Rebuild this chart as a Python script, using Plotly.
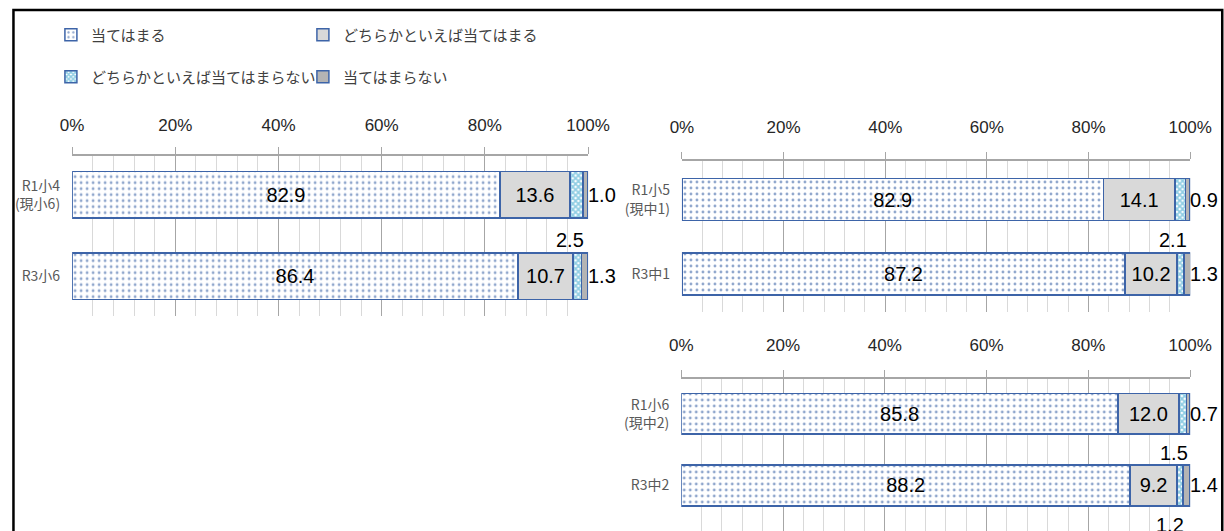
import plotly.graph_objects as go

W, H = 1250, 531
# the photographed page is slightly squeezed horizontally; place marks by reference pixels
SX, OX = 0.971, 12.0

# ---------------- data ----------------
series_names = ["当てはまる", "どちらかといえば当てはまる",
                "どちらかといえば当てはまらない", "当てはまらない"]
panel_labels = [["R1小4<br>(現小6)", "R3小6"],
                ["R1小5<br>(現中1)", "R3中1"],
                ["R1小6<br>(現中2)", "R3中2"]]
atehamaru = [[82.9, 86.4], [82.9, 87.2], [85.8, 88.2]]
dochira_ate = [[13.6, 10.7], [14.1, 10.2], [12.0, 9.2]]
dochira_not = [[2.5, 1.6], [2.1, 1.4], [1.5, 1.2]]
not_ate = [[1.0, 1.3], [0.9, 1.3], [0.7, 1.4]]
tick_vals = [0, 20, 40, 60, 80, 100]
tick_text = ["0%", "20%", "40%", "60%", "80%", "100%"]

# ---------------- style ----------------
JP = "Noto Sans CJK JP"
NUM = "Liberation Sans, Arial, sans-serif"
OUTLINE = "#3d64a8"
styles = [
    dict(color="white", line=dict(color=OUTLINE, width=1.5),
         pattern=dict(shape=".", fgcolor="#1f4e99", bgcolor="white", size=6, solidity=0.18)),
    dict(color="#d9d9d9", line=dict(color=OUTLINE, width=1.5)),
    dict(color="white", line=dict(color=OUTLINE, width=1.5),
         pattern=dict(shape="x", fgcolor="#1f9bc7", bgcolor="white", size=4, solidity=0.7)),
    dict(color="#b4b4b4", line=dict(color=OUTLINE, width=1.5)),
]
legend_of = ["legend", "legend", "legend2", "legend2"]


def px(R):
    return max(0.0, (R - OX) / SX) / W


def py(Y):
    return 1 - Y / H


# panel geometry in reference pixels: x0, x1, y_top(axis line), y_bottom, v_top, v_bottom, standoff
panels = [
    dict(x0=72, x1=587, yt=155.7, yb=315.7, vt=-0.48, vb=1.485, so=9),
    dict(x0=680.7, x1=1188, yt=161, yb=312, vt=-0.517, vb=1.51, so=12),
    dict(x0=680, x1=1188, yt=379, yb=531, vt=-0.486, vb=1.637, so=12),
]

fig = go.Figure()
annotations = []
series_data = [atehamaru, dochira_ate, dochira_not, not_ate]
VAL_FONT = dict(family=NUM, size=20, color="black")

for p, geo in enumerate(panels):
    xa = "x" if p == 0 else f"x{p+1}"
    ya = "y" if p == 0 else f"y{p+1}"
    cats = panel_labels[p]
    for s in range(4):
        vals = series_data[s][p]
        inside = s < 2
        fig.add_trace(go.Bar(
            x=vals, y=cats, orientation="h", name=series_names[s],
            marker=styles[s], xaxis=xa, yaxis=ya,
            legend=legend_of[s], showlegend=(p == 0),
            text=[f"{v:.1f}" for v in vals] if inside else None,
            textposition="inside" if inside else "none",
            insidetextanchor="middle",
            textfont=VAL_FONT, textangle=0, hoverinfo="x+y+name",
        ))
    # labels for the two small segments
    for i, cat in enumerate(cats):
        a, b, c, d = (atehamaru[p][i], dochira_ate[p][i],
                      dochira_not[p][i], not_ate[p][i])
        annotations.append(dict(
            x=a + b + c, y=i + 0.55, xref=xa, yref=ya, text=f"{c:.1f}",
            showarrow=False, xanchor="right", yanchor="middle", xshift=3,
            font=VAL_FONT))
        annotations.append(dict(
            x=100, y=i, xref=xa, yref=ya, text=f"{d:.1f}",
            showarrow=False, xanchor="left", yanchor="middle", xshift=-2,
            font=VAL_FONT))

layout_axes = {}
for p, geo in enumerate(panels):
    xk = "xaxis" if p == 0 else f"xaxis{p+1}"
    yk = "yaxis" if p == 0 else f"yaxis{p+1}"
    ya = "y" if p == 0 else f"y{p+1}"
    xa = "x" if p == 0 else f"x{p+1}"
    layout_axes[xk] = dict(
        domain=[px(geo["x0"]), px(geo["x1"])], anchor=ya, side="top",
        range=[0, 100], tickvals=tick_vals, ticktext=tick_text,
        showgrid=True, gridcolor="#a6a6a6", gridwidth=1,
        minor=dict(dtick=4, tick0=0, showgrid=True, gridcolor="#d9d9d9", gridwidth=1),
        showline=True, linecolor="#a6a6a6", linewidth=1.5,
        ticks="outside", ticklen=7, tickcolor="#a6a6a6",
        ticklabelstandoff=geo["so"],
        tickfont=dict(family=NUM, size=17, color="#262626"),
        zeroline=False, fixedrange=True,
    )
    layout_axes[yk] = dict(
        domain=[max(0, py(geo["yb"])), py(geo["yt"])], anchor=xa,
        type="category", categoryorder="array", categoryarray=panel_labels[p],
        range=[geo["vb"], geo["vt"]],
        showgrid=False, showline=False, zeroline=False, ticks="",
        ticklabelstandoff=11,
        tickfont=dict(family=JP, size=14, color="#595959"),
        fixedrange=True,
    )

# outer frame (left, top, right)
xl, xr, yt = 1.5 / W, px(1220), py(10)
frame = dict(type="path", xref="paper", yref="paper",
             path=f"M {xl} -0.02 L {xl} {yt} L {xr} {yt} L {xr} -0.02",
             line=dict(color="black", width=2.5))

LEG_FONT = dict(family=JP, size=15, color="#404040")
LEG_X = 40 / W
fig.update_layout(
    width=W, height=H, margin=dict(l=0, r=0, t=0, b=0),
    paper_bgcolor="white", plot_bgcolor="rgba(0,0,0,0)",
    barmode="stack", bargap=0.43,
    font=dict(family=JP, color="#404040"),
    legend=dict(orientation="h", x=LEG_X, xanchor="left", y=py(35), yanchor="middle",
                entrywidth=207, font=LEG_FONT,
                bgcolor="rgba(0,0,0,0)", traceorder="normal", itemclick=False),
    legend2=dict(orientation="h", x=LEG_X, xanchor="left", y=py(77), yanchor="middle",
                 entrywidth=207, font=LEG_FONT,
                 bgcolor="rgba(0,0,0,0)", traceorder="normal", itemclick=False),
    annotations=annotations, shapes=[frame],
    **layout_axes,
)

fig.write_html(
    "out.html",
    config={"displayModeBar": False},
    post_script="document.documentElement.style.margin='0';"
                "document.documentElement.style.overflow='hidden';"
                "document.body.style.margin='0';"
                "document.body.style.overflow='hidden';",
)
